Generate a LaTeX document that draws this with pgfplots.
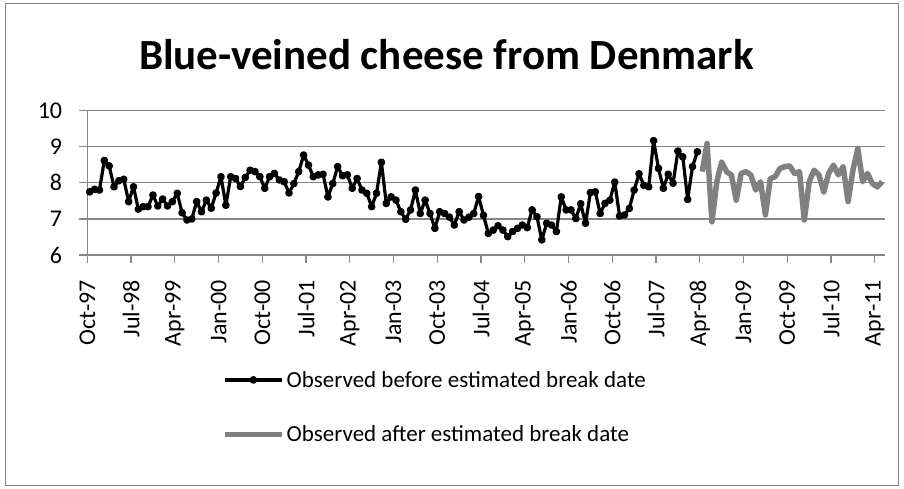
\documentclass[border=0pt]{standalone}
\usepackage{pgfplots}
\pgfplotsset{compat=1.18}
\usepackage{pgfplotstable}
\usepackage{fontspec}
\setmainfont{Carlito}
\definecolor{gridgray}{HTML}{868686}
\definecolor{sergray}{HTML}{808080}

\pgfplotstableread{
m v
0 7.75
1 7.82
2 7.80
3 8.62
4 8.47
5 7.89
6 8.06
7 8.10
8 7.48
9 7.89
10 7.27
11 7.34
12 7.34
13 7.66
14 7.36
15 7.55
16 7.36
17 7.48
18 7.71
19 7.17
20 6.97
21 7.00
22 7.48
23 7.20
24 7.52
25 7.30
26 7.72
27 8.17
28 7.38
29 8.17
30 8.12
31 7.90
32 8.15
33 8.35
34 8.31
35 8.17
36 7.85
37 8.17
38 8.26
39 8.08
40 8.03
41 7.72
42 7.98
43 8.31
44 8.77
45 8.49
46 8.17
47 8.22
48 8.24
49 7.61
50 7.98
51 8.45
52 8.20
53 8.22
54 7.85
55 8.12
56 7.80
57 7.71
58 7.34
59 7.71
60 8.57
61 7.43
62 7.61
63 7.52
64 7.20
65 6.99
66 7.25
67 7.80
68 7.15
69 7.52
70 7.15
71 6.74
72 7.20
73 7.15
74 7.05
75 6.83
76 7.20
77 6.97
78 7.05
79 7.15
80 7.62
81 7.10
82 6.60
83 6.69
84 6.81
85 6.69
86 6.51
87 6.65
88 6.74
89 6.83
90 6.76
91 7.25
92 7.06
93 6.42
94 6.88
95 6.83
96 6.65
97 7.61
98 7.25
99 7.25
100 7.01
101 7.42
102 6.88
103 7.73
104 7.75
105 7.15
106 7.43
107 7.52
108 8.02
109 7.08
110 7.11
111 7.29
112 7.80
113 8.25
114 7.93
115 7.89
116 9.17
117 8.40
118 7.85
119 8.24
120 7.99
121 8.88
122 8.72
123 7.54
124 8.45
125 8.86
}\before

\pgfplotstableread{
m v
126 8.31
127 9.09
128 6.92
129 8.03
130 8.58
131 8.31
132 8.22
133 7.52
134 8.26
135 8.31
136 8.22
137 7.80
138 8.03
139 7.11
140 8.12
141 8.17
142 8.40
143 8.45
144 8.47
145 8.26
146 8.31
147 6.97
148 8.03
149 8.35
150 8.22
151 7.75
152 8.26
153 8.49
154 8.22
155 8.45
156 7.48
157 8.35
158 8.95
159 8.03
160 8.26
161 7.98
162 7.89
163 8.03
}\after

\begin{document}
\begin{tikzpicture}[x=1bp,y=1bp]
\path[use as bounding box] (0,0) rectangle (904,489);
\draw[gridgray, line width=1bp] (5.5,3.5) rectangle (898.5,485.5);
\node[font=\fontsize{43bp}{50bp}\selectfont\bfseries, anchor=base, inner sep=0pt] at (446.5,419) {Blue-veined cheese from Denmark};
\begin{axis}[
  at={(87.3bp,234bp)}, anchor=south west,
  scale only axis, width=797.2bp, height=144.3bp,
  xmin=0, xmax=164, ymin=6, ymax=10,
  axis lines*=left,
  axis line style={gridgray, line width=1.2bp},
  ytick={6,7,8,9,10},
  ymajorgrids, major grid style={gridgray, line width=1.2bp},
  xtick={0,9,...,162},
  xticklabels={Oct-97,Jul-98,Apr-99,Jan-00,Oct-00,Jul-01,Apr-02,Jan-03,Oct-03,Jul-04,Apr-05,Jan-06,Oct-06,Jul-07,Apr-08,Jan-09,Oct-09,Jul-10,Apr-11},
  tick align=outside, major tick length=8bp,
  tick style={gridgray, line width=1.2bp},
  /pgf/number format/assume math mode=true,
  x tick label style={rotate=90, anchor=east, inner sep=0pt, font=\fontsize{24bp}{28bp}\selectfont},
  y tick label style={anchor=east, inner sep=0pt, font=\fontsize{24bp}{28bp}\selectfont},
  xticklabel shift=17bp, yticklabel shift=17bp,
  legend style={draw=none, fill=none, at={(axis description cs:0.1652,-0.79)}, anchor=north west,
    font=\fontsize{23bp}{27bp}\selectfont, nodes={inner sep=0pt}, row sep=37bp,
    /tikz/every even column/.append style={column sep=0bp}},
  legend cell align=left,
  legend image code/.code={\draw[mark repeat=2,mark phase=2,#1] plot coordinates {(0bp,0bp) (28.5bp,0bp) (57bp,0bp)};\path (59bp,0bp);},
  clip=false,
]
\addplot[black, line width=3.2bp, mark=*, mark size=2.2bp, line join=round] table[x expr=\thisrow{m}+0.5, y=v] {\before};
\addlegendentry{Observed before estimated break date}
\addplot[sergray, line width=5.5bp, line join=round] table[x expr=\thisrow{m}+0.5, y=v] {\after};
\addlegendentry{Observed after estimated break date}
\end{axis}
\end{tikzpicture}
\end{document}
